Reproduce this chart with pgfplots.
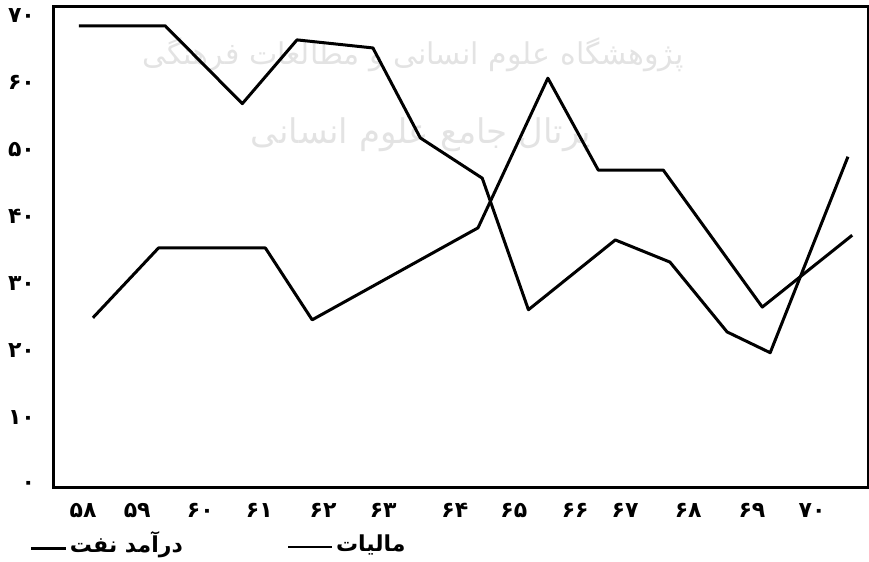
\documentclass[border=0pt]{standalone}
\usepackage{fontspec}
\usepackage{pgfplots}
\pgfplotsset{compat=1.18}
\TeXXeTstate=1
\setmainfont{DejaVu Sans}
\newfontfamily\fa[Script=Arabic]{DejaVu Sans}
\newfontfamily\fadig{DejaVu Sans}

\begin{document}
\begin{tikzpicture}
\begin{axis}[
  scale only axis,
  width=407pt, height=240.5pt,
  xmin=57.52, xmax=70.92,
  ymin=-0.45, ymax=71.2,
  axis line style={line width=1.5pt},
  ytick={0,10,...,70},
  yticklabels={۰,۱۰,۲۰,۳۰,۴۰,۵۰,۶۰,۷۰},
  xtick={58,58.89,59.93,60.90,61.95,62.94,64.12,65.09,66.10,66.92,67.96,69.01,70},
  xticklabels={۵۸,۵۹,۶۰,۶۱,۶۲,۶۳,۶۴,۶۵,۶۶,۶۷,۶۸,۶۹,۷۰},
  major tick length=0pt,
  tick label style={font=\fadig\bfseries\fontsize{11}{11}\selectfont},
  yticklabel style={xshift=-6pt},
  xticklabel style={yshift=-4.3pt},
  clip=false,
]
% watermark
\node[gray!22, font=\fa\fontsize{15}{15}\selectfont] at (rel axis cs:0.441,0.90) {\beginR پژوهشگاه علوم انسانی و مطالعات فرهنگی\endR};
\node[gray!22, font=\fa\fontsize{17}{17}\selectfont] at (rel axis cs:0.451,0.734) {\beginR پرتال جامع علوم انسانی\endR};

% tax
\addplot[black, line width=1.5pt, line join=round] coordinates {
  (57.93,68.4) (59.35,68.4) (60.62,56.8) (61.52,66.3) (62.77,65.1)
  (63.55,51.7) (64.57,45.7) (65.33,26.1) (66.76,36.5) (67.66,33.2)
  (68.60,22.8) (69.31,19.7) (70.59,48.9)};
% oil revenue
\addplot[black, line width=1.5pt, line join=round] coordinates {
  (58.16,24.9) (59.24,35.3) (61.0,35.3) (61.77,24.6) (64.5,38.3)
  (65.65,60.6) (66.48,46.9) (67.55,46.9) (69.18,26.5) (70.66,37.2)};

% legend
\node[font=\fa\bfseries\fontsize{11}{11}\selectfont] at (rel axis cs:0.065,-0.118)
  {\rule[0.25ex]{1.6em}{1.2pt}\,{\beginR درآمد نفت\endR}};
\node[font=\fa\bfseries\fontsize{11}{11}\selectfont] at (rel axis cs:0.36,-0.118)
  {\rule[0.25ex]{2em}{1.2pt}\,{\beginR مالیات\endR}};
\end{axis}
\pgfresetboundingbox
\path[use as bounding box] ([xshift=-27pt,yshift=-37pt]current axis.south west)
  rectangle ([xshift=0.5pt,yshift=3.5pt]current axis.north east);
\end{tikzpicture}
\end{document}
